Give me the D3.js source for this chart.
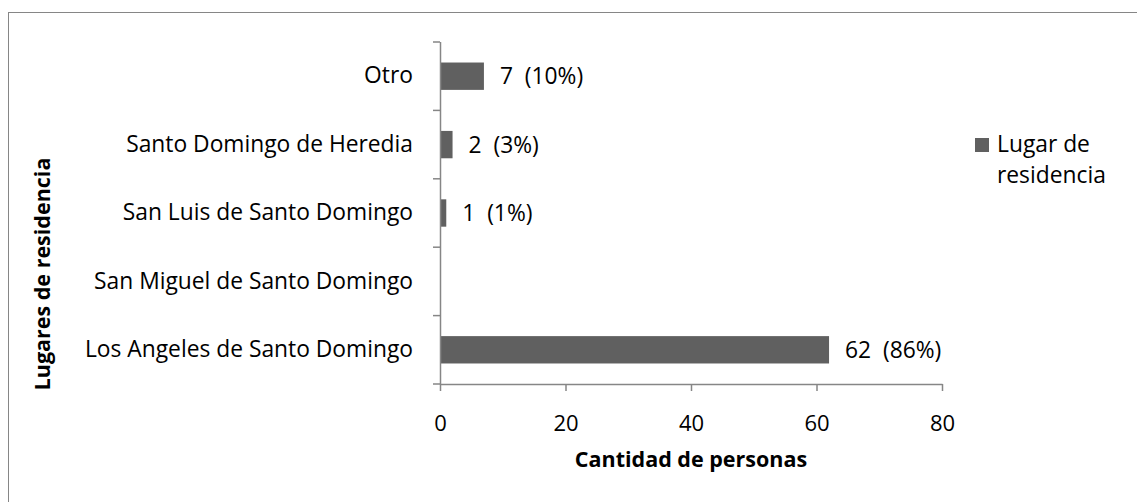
<!DOCTYPE html>
<html>
<head>
<meta charset="utf-8">
<script src="https://cdn.jsdelivr.net/npm/d3@7"></script>
<style>
  body { margin: 0; background: #fff; }
  svg { display: block; font-family: "Open Sans", sans-serif; }
</style>
</head>
<body>
<svg width="1137" height="502"></svg>
<script>
// data, bottom to top as in the picture
var categories = ["Los Angeles de Santo Domingo", "San Miguel de Santo Domingo", "San Luis de Santo Domingo", "Santo Domingo de Heredia", "Otro"];
var counts = [62, 0, 1, 2, 7];
var percents = [86, 0, 1, 3, 10];
var xTicks = [0, 20, 40, 60, 80];
var seriesName = ["Lugar de", "residencia"];

var svg = d3.select("svg"),
    margin = {top: 42, right: 195, bottom: 118, left: 440},
    width = svg.attr("width") - margin.left - margin.right,
    height = svg.attr("height") - margin.top - margin.bottom;

var axisColor = "#868686",
    barColor = "#606060",
    fontSize = "22.8px";

// outer chart frame (runs off the right and bottom edge)
svg.append("rect")
    .attr("x", 8.5)
    .attr("y", 12.5)
    .attr("width", 1200)
    .attr("height", 600)
    .attr("fill", "none")
    .attr("stroke", axisColor)
    .attr("stroke-width", 1);

var x = d3.scaleLinear().domain([0, 80]).range([0, width]),
    y = d3.scaleBand().domain(categories.slice().reverse()).range([0, height])
        .paddingInner(0.6).paddingOuter(0.3);

var g = svg.append("g")
    .attr("transform", "translate(" + margin.left + "," + margin.top + ")");

var data = categories.map(function(c, i) {
    return {name: c, value: counts[i], pct: percents[i]};
});

// bars
g.selectAll(".bar")
    .data(data)
    .enter().append("rect")
    .attr("class", "bar")
    .attr("x", x(0))
    .attr("y", function(d) { return y(d.name); })
    .attr("width", function(d) { return x(d.value) - x(0); })
    .attr("height", y.bandwidth())
    .attr("fill", barColor);

// data labels (skip the empty category)
g.selectAll(".label")
    .data(data.filter(function(d) { return d.value > 0; }))
    .enter().append("text")
    .attr("class", "label")
    .attr("x", function(d) { return x(d.value) + 16; })
    .attr("y", function(d) { return y(d.name) + y.bandwidth() / 2; })
    .attr("dy", "0.36em")
    .style("white-space", "pre")
    .style("font-size", fontSize)
    .attr("fill", "#000")
    .text(function(d) { return d.value + "  (" + d.pct + "%)"; });

// y axis: labels only, line and in-between ticks drawn below
var yAxis = g.append("g")
    .attr("class", "axis axis--y")
    .call(d3.axisLeft(y).tickSize(0).tickPadding(27));
yAxis.select(".domain").remove();
yAxis.selectAll("text")
    .style("font-size", fontSize)
    .style("font-family", "Open Sans")
    .attr("fill", "#000");

g.append("line")
    .attr("x1", 0.5).attr("x2", 0.5)
    .attr("y1", 0).attr("y2", height)
    .attr("stroke", axisColor)
    .attr("stroke-width", 1.5);

var bounds = d3.range(categories.length + 1).map(function(i) { return i * y.step(); });
g.selectAll(".ytick")
    .data(bounds)
    .enter().append("line")
    .attr("class", "ytick")
    .attr("x1", -7).attr("x2", 0)
    .attr("y1", function(d) { return d; })
    .attr("y2", function(d) { return d; })
    .attr("stroke", axisColor)
    .attr("stroke-width", 1.5);

// x axis
var xAxis = g.append("g")
    .attr("class", "axis axis--x")
    .attr("transform", "translate(0," + height + ")")
    .call(d3.axisBottom(x).tickValues(xTicks).tickSize(7).tickSizeOuter(0).tickPadding(24));
xAxis.select(".domain").attr("stroke", axisColor).attr("stroke-width", 1.5);
xAxis.selectAll(".tick line").attr("stroke", axisColor).attr("stroke-width", 1.5);
xAxis.selectAll("text")
    .style("font-size", "22px")
    .style("font-family", "Open Sans")
    .attr("fill", "#000");

// axis titles
svg.append("text")
    .attr("x", margin.left + width / 2)
    .attr("y", 467)
    .attr("text-anchor", "middle")
    .style("font-size", "21.5px")
    .style("font-weight", "bold")
    .attr("fill", "#000")
    .text("Cantidad de personas");

svg.append("text")
    .attr("transform", "translate(50,274) rotate(-90)")
    .attr("text-anchor", "middle")
    .style("font-size", "21.5px")
    .style("font-weight", "bold")
    .attr("fill", "#000")
    .text("Lugares de residencia");

// legend
var legend = svg.append("g")
    .attr("transform", "translate(975,138)");
legend.append("rect")
    .attr("width", 14)
    .attr("height", 14)
    .attr("fill", barColor);
var lt = legend.append("text")
    .attr("y", 14)
    .style("font-size", fontSize)
    .attr("fill", "#000");
lt.selectAll("tspan")
    .data(seriesName)
    .enter().append("tspan")
    .attr("x", 22)
    .attr("dy", function(d, i) { return i ? 31 : 0; })
    .text(function(d) { return d; });
</script>
</body>
</html>
